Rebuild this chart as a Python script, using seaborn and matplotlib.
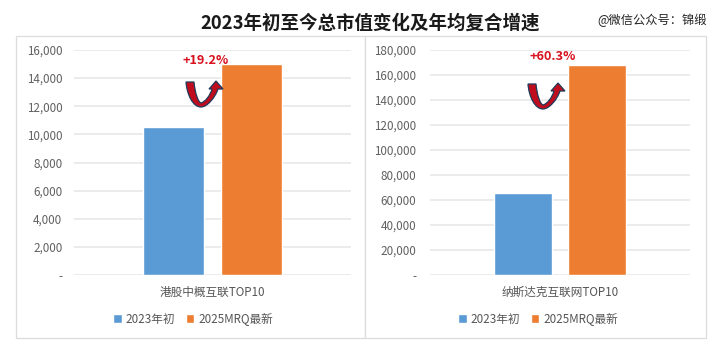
import seaborn as sns
import pandas as pd
import matplotlib.pyplot as plt
from matplotlib.patches import Rectangle, PathPatch
from matplotlib.path import Path

W, H = 726, 361

series_names = ["2023年初", "2025MRQ最新"]
colors = ["#5b9bd5", "#ed7d31"]

left_cat = "港股中概互联TOP10"
left_values = [10520, 14970]
left_ticks = [0, 2000, 4000, 6000, 8000, 10000, 12000, 14000, 16000]
left_labels = ["-", "2,000", "4,000", "6,000", "8,000", "10,000", "12,000", "14,000", "16,000"]
left_growth = "+19.2%"

right_cat = "纳斯达克互联网TOP10"
right_values = [65500, 168300]
right_ticks = [0, 20000, 40000, 60000, 80000, 100000, 120000, 140000, 160000, 180000]
right_labels = ["-", "20,000", "40,000", "60,000", "80,000", "100,000", "120,000", "140,000", "160,000", "180,000"]
right_growth = "+60.3%"

sns.set_theme(style="white")
plt.rcParams['font.family'] = ['Noto Sans CJK SC', 'DejaVu Sans']

fig = plt.figure(figsize=(W / 100, H / 100), dpi=100)

#pixel box to figure fractions, y counted from the top
def px_axes(x0, x1, y0, y1):
	return fig.add_axes([x0 / W, 1 - y1 / H, (x1 - x0) / W, (y1 - y0) / H])

#panel outlines, kept behind the axes
for x0, x1 in [(16, 365), (365, 706)]:
	fig.add_artist(Rectangle((x0 / W, 1 - 338 / H), (x1 - x0) / W, 302 / H, transform=fig.transFigure,
		facecolor="white", edgecolor="#dcdcdc", lw=0.9, zorder=-1))

#u-turn arrow, drawn in figure pixels
def u_arrow(dx, dy):
	pts = [(186, 82), (194, 82), (195, 93), (198, 102), (201, 103), (205, 102), (210, 96), (212, 89),
		(209, 89), (216, 81), (223, 89), (218, 89), (215, 98), (207, 107), (201, 107), (193, 107),
		(187, 95), (186, 82), (186, 82)]
	codes = [Path.MOVETO, Path.LINETO, Path.CURVE4, Path.CURVE4, Path.CURVE4, Path.CURVE4, Path.CURVE4, Path.CURVE4,
		Path.LINETO, Path.LINETO, Path.LINETO, Path.LINETO, Path.CURVE4, Path.CURVE4, Path.CURVE4, Path.CURVE4,
		Path.CURVE4, Path.CURVE4, Path.CLOSEPOLY]
	verts = [((x + dx) / W, 1 - (y + dy) / H) for x, y in pts]
	fig.add_artist(PathPatch(Path(verts, codes), transform=fig.transFigure, facecolor="#c00d1e",
		edgecolor="#1f3a5a", lw=0.9, zorder=5))

def panel(box, cat, values, ticks, labels, growth, growth_xy, legend_xy, ymax, bar_w, pad):
	ax = px_axes(*box)
	df = pd.DataFrame({"cat": [cat, cat], "series": series_names, "value": values})
	sns.barplot(data=df, x="cat", y="value", hue="series", hue_order=series_names, palette=colors,
		width=bar_w, gap=0.22, saturation=1, ax=ax, zorder=3)
	ax.set_ylim(0, ymax)
	ax.set_xlim(-0.5, 0.5)
	ax.set_yticks(ticks, labels)
	ax.set_xlabel("")
	ax.set_ylabel("")
	ax.patch.set_alpha(0)
	ax.yaxis.grid(True, color="#e6e6e6", lw=1.1)
	ax.set_axisbelow(True)
	sns.despine(ax=ax, left=True, bottom=True, top=True, right=True)
	ax.tick_params(axis="y", length=0, pad=pad, labelsize=8.4, labelcolor="#606060")
	ax.tick_params(axis="x", length=0, pad=7.5, labelsize=8.4, labelcolor="#555555")
	sns.move_legend(ax, "center", bbox_to_anchor=(legend_xy[0] / W, 1 - legend_xy[1] / H),
		bbox_transform=fig.transFigure, ncol=2, frameon=False, title=None, fontsize=8.4,
		handlelength=0.75, handleheight=0.75, handletextpad=0.35, columnspacing=0.9, labelcolor="#555555")
	fig.text(growth_xy[0] / W, 1 - growth_xy[1] / H, growth, color="#d8121f", fontsize=9.2,
		fontweight="bold", ha="center", va="center")

panel((74, 351, 50, 275), left_cat, left_values, left_ticks, left_labels, left_growth, (206, 60), (193, 319), 16000, 0.567, 8.4)
panel((430, 690, 50, 275), right_cat, right_values, right_ticks, right_labels, right_growth, (553, 56), (538, 319), 180000, 0.571, 10)

u_arrow(0, 0)
u_arrow(342, 2)

fig.text(370 / W, 1 - 23 / H, "2023年初至今总市值变化及年均复合增速", fontsize=13.3, fontweight="bold",
	color="#1a1a1a", ha="center", va="center")
fig.text(652 / W, 1 - 20 / H, "@微信公众号：锦缎", fontsize=8.8, color="#222222", ha="center", va="center")

fig.savefig("out.png", dpi=100)
